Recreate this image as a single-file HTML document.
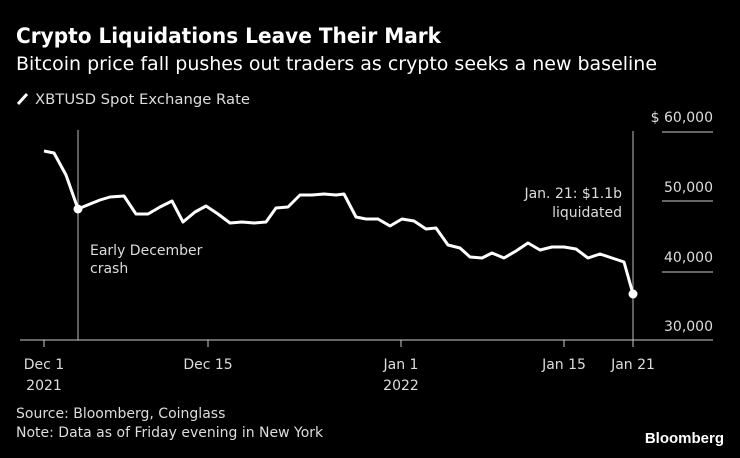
<!DOCTYPE html>
<html><head><style>
body{margin:0;background:#000;width:740px;height:453px;overflow:hidden;font-family:"Liberation Sans",sans-serif;color:#fff}
</style></head><body>
<svg width="740" height="453" viewBox="0 0 740 453" xmlns="http://www.w3.org/2000/svg" font-family="DejaVu Sans, sans-serif">
<rect width="740" height="453" fill="#000"/>
<text x="16" y="43" font-size="21" font-weight="bold" fill="#fff" textLength="425" lengthAdjust="spacingAndGlyphs">Crypto Liquidations Leave Their Mark</text>
<text x="16" y="70" font-size="19" fill="#fff" textLength="641" lengthAdjust="spacingAndGlyphs">Bitcoin price fall pushes out traders as crypto seeks a new baseline</text>
<line x1="18" y1="104" x2="27" y2="94" stroke="#fff" stroke-width="3"/>
<text x="35" y="104" font-size="14" fill="#ddd" textLength="215" lengthAdjust="spacingAndGlyphs">XBTUSD Spot Exchange Rate</text>
<g stroke="#ccc" stroke-width="1">
<line x1="662" y1="132" x2="713" y2="132"/><line x1="662" y1="201" x2="713" y2="201"/>
<line x1="662" y1="272" x2="713" y2="272"/>
<line x1="20" y1="340" x2="713" y2="340"/>
<line x1="44" y1="340" x2="44" y2="347"/><line x1="208" y1="340" x2="208" y2="347"/>
<line x1="401" y1="340" x2="401" y2="347"/><line x1="564" y1="340" x2="564" y2="347"/><line x1="633" y1="340" x2="633" y2="347"/>
</g>
<g stroke="#bbb" stroke-width="1"><line x1="78" y1="130" x2="78" y2="340"/><line x1="633" y1="131" x2="633" y2="340"/></g>
<g font-size="14" fill="#ddd" text-anchor="end">
<text x="713" y="122">$ 60,000</text><text x="713" y="192">50,000</text><text x="713" y="262">40,000</text><text x="713" y="331">30,000</text>
</g>
<g font-size="14" fill="#ddd" text-anchor="middle">
<text x="44" y="369">Dec 1</text><text x="44" y="390">2021</text>
<text x="208" y="369">Dec 15</text><text x="401" y="369">Jan 1</text><text x="401" y="390">2022</text>
<text x="564" y="369">Jan 15</text><text x="633" y="369">Jan 21</text>
</g>
<text x="90" y="255" font-size="14" fill="#ddd">Early December</text>
<text x="90" y="273" font-size="14" fill="#ddd">crash</text>
<text x="622" y="198" font-size="14" fill="#ddd" text-anchor="end">Jan. 21: $1.1b</text>
<text x="622" y="217" font-size="14" fill="#ddd" text-anchor="end">liquidated</text>
<polyline fill="none" stroke="#fff" stroke-width="3" stroke-linejoin="round" points="44,151 54,153 66,175 78,209 90,204 100,200 110,197 124,196 136,214 148,214 160,207 172,201 183,222 195,212 206,206 218,214 230,223 242,222 254,223 266,222 276,208 288,207 300,195 312,195 324,194 336,195 344,194 356,217 366,219 378,219 390,226 402,219 414,221 426,229 436,228 448,245 460,248 470,257 482,258 492,253 504,258 516,251 528,243 540,250 552,247 564,247 576,249 588,258 600,254 612,258 624,262 633,294"/>
<circle cx="78" cy="209" r="4.5" fill="#fff"/><circle cx="633" cy="294" r="4.5" fill="#fff"/>
<text x="16" y="418" font-size="14" fill="#ddd">Source: Bloomberg, Coinglass</text>
<text x="16" y="437" font-size="14" fill="#ddd">Note: Data as of Friday evening in New York</text>
<text x="724" y="443" font-size="15" font-weight="bold" fill="#fff" text-anchor="end" font-family="Liberation Sans, sans-serif">Bloomberg</text>
</svg>
</body></html>
